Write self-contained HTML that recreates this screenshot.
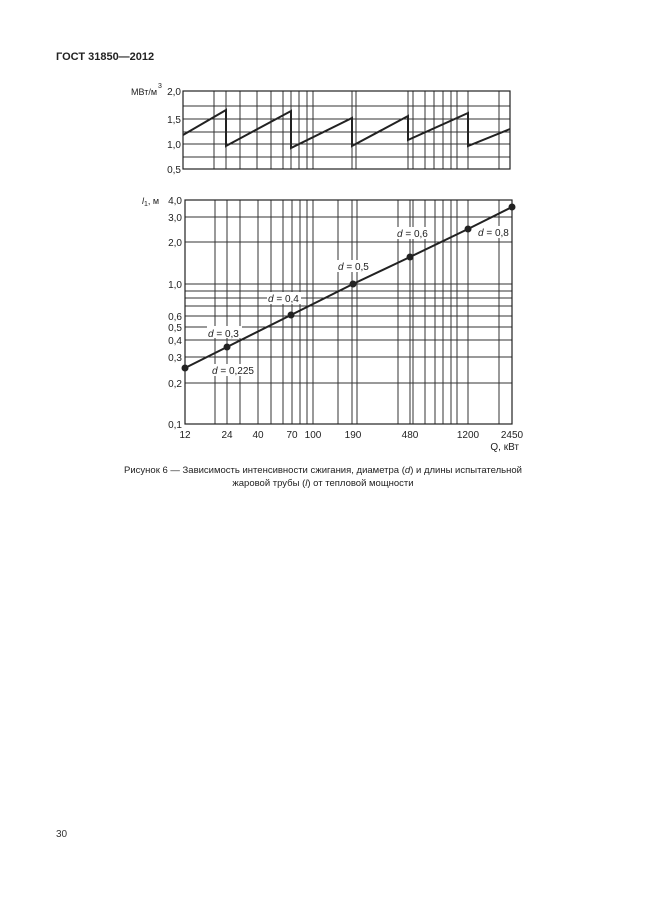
<!DOCTYPE html>
<html><head><meta charset="utf-8"><style>
html,body{margin:0;padding:0;background:#fff;}
svg{display:block;font-family:"Liberation Sans",sans-serif;}
</style></head><body>
<svg width="646" height="913" viewBox="0 0 646 913" xmlns="http://www.w3.org/2000/svg">
<rect width="646" height="913" fill="#fff"/>
<text x="56" y="60" font-size="11" font-weight="bold" fill="#222">ГОСТ 31850—2012</text>

<!-- TOP CHART -->
<g stroke="#333" stroke-width="1">
<line x1="183" x2="510" y1="106" y2="106"/>
<line x1="183" x2="510" y1="119" y2="119"/>
<line x1="183" x2="510" y1="132" y2="132"/>
<line x1="183" x2="510" y1="144" y2="144"/>
<line x1="183" x2="510" y1="157" y2="157"/>
<line x1="214" x2="214" y1="91" y2="169"/><line x1="226" x2="226" y1="91" y2="169"/>
<line x1="240" x2="240" y1="91" y2="169"/><line x1="257" x2="257" y1="91" y2="169"/>
<line x1="271" x2="271" y1="91" y2="169"/><line x1="283" x2="283" y1="91" y2="169"/>
<line x1="291" x2="291" y1="91" y2="169"/><line x1="299" x2="299" y1="91" y2="169"/>
<line x1="307" x2="307" y1="91" y2="169"/><line x1="313" x2="313" y1="91" y2="169"/>
<line x1="352" x2="352" y1="91" y2="169"/><line x1="356" x2="356" y1="91" y2="169"/>
<line x1="408" x2="408" y1="91" y2="169"/><line x1="413" x2="413" y1="91" y2="169"/>
<line x1="425" x2="425" y1="91" y2="169"/><line x1="434" x2="434" y1="91" y2="169"/>
<line x1="443" x2="443" y1="91" y2="169"/><line x1="451" x2="451" y1="91" y2="169"/>
<line x1="457" x2="457" y1="91" y2="169"/><line x1="468" x2="468" y1="91" y2="169"/>
<line x1="499" x2="499" y1="91" y2="169"/>
</g>
<rect x="183" y="91" width="327" height="78" fill="none" stroke="#222" stroke-width="1.2"/>
<polyline points="183,135 226,110 226,146 291,111 291,148 352,118 352,146 408,116 408,140 468,113 468,146 510,129" fill="none" stroke="#222" stroke-width="2"/>
<g font-size="10" fill="#222" text-anchor="end">
<text x="181" y="95">2,0</text><text x="181" y="123">1,5</text>
<text x="181" y="148">1,0</text><text x="181" y="173">0,5</text>
</g>
<text x="131" y="95" font-size="9" fill="#222">МВт/м</text>
<text x="158" y="88" font-size="7" fill="#222">3</text>

<!-- BOTTOM CHART -->
<g stroke="#333" stroke-width="1">
<line x1="185" x2="512" y1="383" y2="383"/><line x1="185" x2="512" y1="357" y2="357"/>
<line x1="185" x2="512" y1="340" y2="340"/><line x1="185" x2="512" y1="327" y2="327"/>
<line x1="185" x2="512" y1="316" y2="316"/><line x1="185" x2="512" y1="306" y2="306"/>
<line x1="185" x2="512" y1="298" y2="298"/><line x1="185" x2="512" y1="291" y2="291"/>
<line x1="185" x2="512" y1="284" y2="284"/><line x1="185" x2="512" y1="242" y2="242"/>
<line x1="185" x2="512" y1="217" y2="217"/>
<line x1="215" x2="215" y1="200" y2="424"/><line x1="227" x2="227" y1="200" y2="424"/>
<line x1="240" x2="240" y1="200" y2="424"/><line x1="258" x2="258" y1="200" y2="424"/>
<line x1="271" x2="271" y1="200" y2="424"/><line x1="283" x2="283" y1="200" y2="424"/>
<line x1="292" x2="292" y1="200" y2="424"/><line x1="300" x2="300" y1="200" y2="424"/>
<line x1="307" x2="307" y1="200" y2="424"/><line x1="313" x2="313" y1="200" y2="424"/>
<line x1="338" x2="338" y1="200" y2="424"/><line x1="352" x2="352" y1="200" y2="424"/>
<line x1="357" x2="357" y1="200" y2="424"/><line x1="398" x2="398" y1="200" y2="424"/>
<line x1="410" x2="410" y1="200" y2="424"/><line x1="413" x2="413" y1="200" y2="424"/>
<line x1="425" x2="425" y1="200" y2="424"/><line x1="435" x2="435" y1="200" y2="424"/>
<line x1="443" x2="443" y1="200" y2="424"/><line x1="451" x2="451" y1="200" y2="424"/>
<line x1="457" x2="457" y1="200" y2="424"/><line x1="468" x2="468" y1="200" y2="424"/>
<line x1="499" x2="499" y1="200" y2="424"/>
</g>
<rect x="185" y="200" width="327" height="224" fill="none" stroke="#222" stroke-width="1.2"/>
<polyline points="185,368 227,347 291,315 353,284 410,257 468,229 512,207" fill="none" stroke="#222" stroke-width="2"/>
<g fill="#222">
<circle cx="185" cy="368" r="3.5"/><circle cx="227" cy="347" r="3.5"/>
<circle cx="291" cy="315" r="3.5"/><circle cx="353" cy="284" r="3.5"/>
<circle cx="410" cy="257" r="3.5"/><circle cx="468" cy="229" r="3.5"/>
<circle cx="512" cy="207" r="3.5"/>
</g>
<g font-size="10" fill="#222">
<rect x="207" y="326" width="35" height="12" fill="#fff"/><text x="208" y="337"><tspan font-style="italic">d</tspan> = 0,3</text>
<rect x="211" y="364" width="44" height="12" fill="#fff"/><text x="212" y="374"><tspan font-style="italic">d</tspan> = 0,225</text>
<rect x="267" y="292" width="34" height="12" fill="#fff"/><text x="268" y="302"><tspan font-style="italic">d</tspan> = 0,4</text>
<rect x="337" y="260" width="32" height="12" fill="#fff"/><text x="338" y="270"><tspan font-style="italic">d</tspan> = 0,5</text>
<rect x="396" y="227" width="32" height="12" fill="#fff"/><text x="397" y="237"><tspan font-style="italic">d</tspan> = 0,6</text>
<rect x="477" y="226" width="32" height="12" fill="#fff"/><text x="478" y="236"><tspan font-style="italic">d</tspan> = 0,8</text>
</g>
<g font-size="10" fill="#222" text-anchor="end">
<text x="182" y="204">4,0</text><text x="182" y="221">3,0</text><text x="182" y="246">2,0</text>
<text x="182" y="288">1,0</text><text x="182" y="320">0,6</text><text x="182" y="331">0,5</text>
<text x="182" y="344">0,4</text><text x="182" y="361">0,3</text><text x="182" y="387">0,2</text>
<text x="182" y="428">0,1</text>
</g>
<text x="142" y="204" font-size="9" fill="#222"><tspan font-style="italic">l</tspan><tspan font-size="7" dy="2">1</tspan><tspan dy="-2">, м</tspan></text>
<g font-size="10" fill="#222" text-anchor="middle">
<text x="185" y="438">12</text><text x="227" y="438">24</text><text x="258" y="438">40</text>
<text x="292" y="438">70</text><text x="313" y="438">100</text><text x="353" y="438">190</text>
<text x="410" y="438">480</text><text x="468" y="438">1200</text><text x="512" y="438">2450</text>
</g>
<text x="519" y="450" font-size="10" fill="#222" text-anchor="end">Q, кВт</text>

<g font-size="9.5" fill="#222" text-anchor="middle">
<text x="323" y="473">Рисунок 6 — Зависимость интенсивности сжигания, диаметра (<tspan font-style="italic">d</tspan>) и длины испытательной</text>
<text x="323" y="486">жаровой трубы (<tspan font-style="italic">l</tspan>) от тепловой мощности</text>
</g>
<text x="56" y="837" font-size="10" fill="#333">30</text>
</svg>
</body></html>
